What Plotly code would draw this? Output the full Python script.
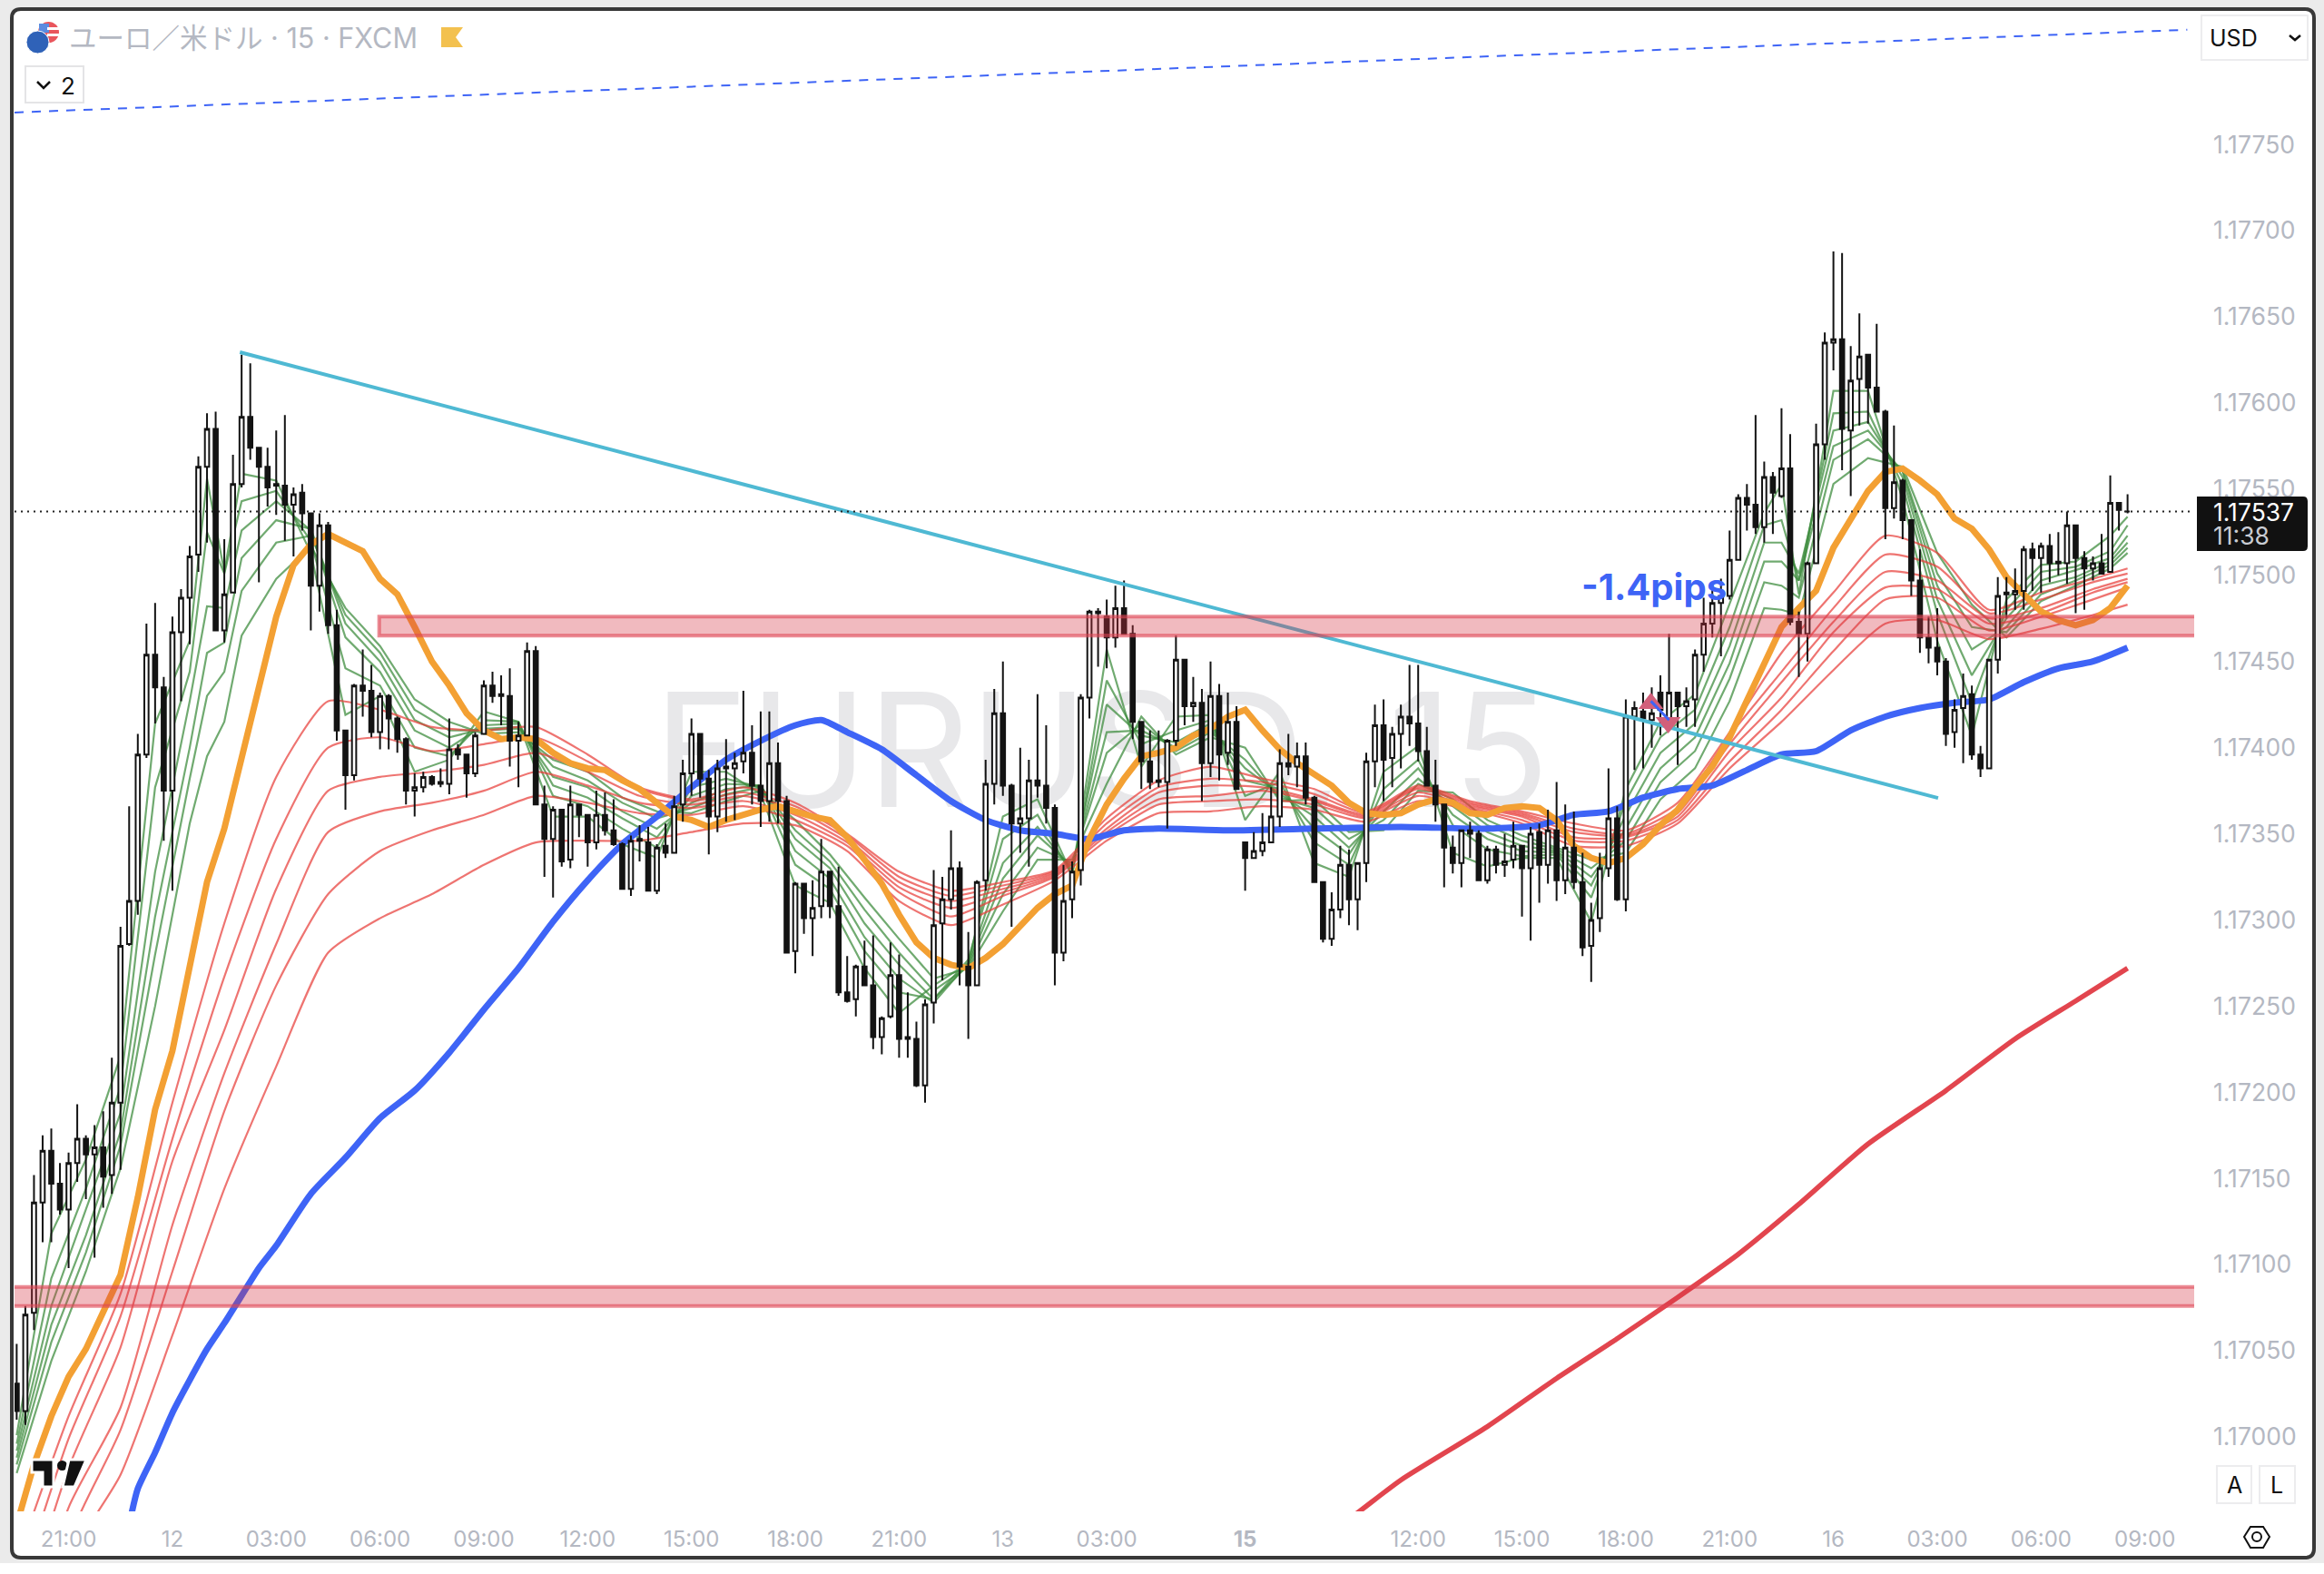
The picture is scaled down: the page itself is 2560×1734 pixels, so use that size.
import plotly.graph_objects as go

# --- bar positions and time-axis labels (15-minute bars, weekend gap removed) ---
tick_bars = [6, 18, 30, 42, 54, 66, 78, 90, 102, 114, 126, 142, 162, 174, 186, 198, 210, 222, 234, 246]
tick_text = ["21:00", "12", "03:00", "06:00", "09:00", "12:00", "15:00", "18:00", "21:00", "13", "03:00",
             "<b>15</b>", "12:00", "15:00", "18:00", "21:00", "16", "03:00", "06:00", "09:00"]
price_ticks = [1.17000, 1.17050, 1.17100, 1.17150, 1.17200, 1.17250, 1.17300, 1.17350,
               1.17400, 1.17450, 1.17500, 1.17550, 1.17600, 1.17650, 1.17700, 1.17750]

# --- candles: prices in 0.00001 above 1.0 (17537 = 1.17537) ---
opens = [17031,17015,17072,17136,17166,17147,17132,17159,17173,17164,17168,17152,17194,17286,17311,17396,17454,17435,17375,17467,
17487,17512,17563,17585,17468,17490,17553,17592,17574,17563,17553,17552,17541,17548,17536,17494,17529,17471,17410,17384,
17436,17433,17409,17430,17417,17405,17375,17377,17383,17380,17379,17399,17396,17385,17408,17436,17431,17430,17404,17407,
17456,17367,17347,17364,17335,17367,17361,17345,17361,17352,17344,17318,17347,17345,17317,17343,17339,17367,17385,17408,
17382,17360,17389,17388,17392,17397,17378,17369,17391,17369,17282,17321,17301,17308,17328,17308,17258,17254,17273,17262,
17232,17244,17268,17232,17231,17204,17252,17298,17312,17330,17273,17262,17323,17379,17420,17378,17356,17359,17381,17378,
17365,17281,17312,17329,17429,17479,17476,17464,17481,17466,17415,17392,17381,17380,17404,17451,17424,17426,17391,17430,
17397,17415,17345,17336,17340,17345,17360,17391,17389,17395,17371,17322,17289,17306,17332,17312,17333,17392,17413,17394,
17408,17418,17414,17398,17378,17367,17342,17333,17352,17350,17323,17341,17332,17335,17343,17330,17351,17332,17352,17323,
17342,17322,17285,17301,17330,17359,17312,17418,17421,17416,17432,17417,17432,17424,17428,17454,17472,17484,17488,17509,
17545,17541,17528,17557,17546,17562,17473,17466,17507,17576,17635,17637,17584,17614,17628,17609,17595,17539,17555,17532,
17497,17464,17458,17450,17409,17423,17431,17396,17388,17451,17490,17489,17491,17515,17510,17517,17508,17507,17529,17510,
17504,17507,17502,17542,17537]
highs = [17054,17076,17152,17175,17179,17159,17165,17193,17175,17181,17189,17220,17296,17366,17408,17472,17484,17441,17476,17492,
17517,17569,17594,17595,17521,17570,17628,17623,17574,17574,17584,17593,17551,17553,17536,17536,17531,17480,17410,17437,
17457,17448,17432,17431,17418,17406,17385,17386,17384,17388,17417,17402,17396,17409,17439,17444,17442,17446,17415,17461,
17459,17378,17366,17364,17378,17367,17361,17375,17374,17370,17345,17349,17355,17354,17344,17356,17372,17393,17417,17408,
17387,17393,17405,17397,17433,17413,17421,17421,17403,17372,17322,17321,17323,17347,17328,17331,17279,17274,17288,17291,
17244,17287,17280,17258,17241,17254,17329,17325,17352,17334,17293,17323,17393,17434,17450,17379,17400,17393,17431,17413,
17367,17332,17334,17431,17480,17481,17486,17494,17497,17471,17415,17410,17410,17405,17465,17451,17441,17434,17450,17437,
17432,17424,17345,17351,17362,17377,17399,17408,17403,17403,17372,17322,17316,17343,17341,17333,17397,17425,17428,17412,
17425,17448,17448,17412,17393,17367,17349,17352,17357,17352,17343,17343,17350,17357,17343,17354,17356,17364,17380,17367,
17363,17339,17310,17339,17388,17366,17428,17427,17432,17435,17442,17466,17432,17435,17457,17487,17494,17498,17526,17547,
17553,17593,17566,17560,17597,17582,17479,17508,17588,17641,17688,17687,17633,17652,17628,17646,17596,17587,17556,17532,
17515,17476,17481,17452,17428,17443,17436,17401,17451,17499,17499,17504,17517,17519,17519,17524,17525,17537,17529,17514,
17511,17524,17558,17542,17547]
lows = [17010,17007,17062,17113,17113,17129,17098,17148,17138,17104,17133,17141,17155,17285,17303,17394,17414,17346,17317,17427,
17460,17502,17519,17468,17461,17490,17551,17567,17496,17540,17535,17520,17511,17526,17468,17479,17466,17404,17364,17381,
17418,17406,17399,17399,17397,17367,17360,17374,17378,17377,17373,17393,17371,17383,17408,17426,17413,17389,17377,17407,
17367,17325,17313,17331,17330,17348,17331,17341,17349,17343,17318,17314,17334,17317,17315,17336,17339,17357,17372,17371,
17338,17351,17357,17358,17385,17367,17354,17357,17356,17281,17269,17292,17279,17301,17301,17256,17252,17244,17262,17225,
17222,17243,17220,17220,17203,17194,17240,17265,17306,17262,17231,17262,17317,17367,17372,17296,17339,17331,17371,17356,
17262,17276,17301,17320,17417,17447,17446,17458,17466,17405,17376,17376,17377,17353,17401,17413,17415,17369,17383,17381,
17390,17376,17317,17336,17337,17345,17354,17384,17377,17367,17322,17287,17285,17301,17297,17294,17322,17377,17369,17377,
17388,17401,17392,17378,17357,17319,17327,17319,17336,17323,17321,17327,17325,17330,17302,17288,17310,17321,17311,17315,
17318,17279,17264,17293,17325,17311,17305,17387,17388,17400,17407,17415,17390,17412,17412,17444,17464,17453,17486,17509,
17526,17524,17519,17524,17545,17471,17441,17450,17507,17567,17619,17561,17546,17587,17588,17595,17521,17533,17521,17488,
17455,17449,17442,17401,17400,17391,17393,17383,17388,17443,17475,17480,17480,17491,17490,17496,17500,17495,17478,17480,
17497,17501,17502,17526,17536]
closes = [17015,17071,17136,17166,17147,17132,17159,17173,17164,17168,17151,17194,17285,17311,17396,17454,17435,17375,17467,17487,
17511,17563,17585,17468,17489,17553,17592,17574,17563,17551,17552,17541,17547,17536,17494,17529,17471,17410,17384,17436,
17433,17409,17430,17417,17405,17375,17377,17383,17379,17379,17399,17396,17385,17407,17436,17430,17430,17404,17407,17456,
17367,17347,17364,17334,17367,17361,17345,17361,17352,17344,17318,17346,17346,17317,17342,17339,17366,17385,17408,17382,
17360,17388,17388,17391,17397,17378,17369,17391,17369,17281,17321,17301,17307,17328,17308,17258,17253,17273,17262,17232,
17243,17268,17231,17231,17204,17251,17297,17312,17330,17273,17262,17322,17379,17420,17378,17356,17359,17381,17378,17365,
17281,17311,17328,17429,17479,17478,17464,17481,17466,17415,17392,17380,17380,17404,17451,17424,17426,17391,17430,17396,
17415,17376,17336,17340,17345,17360,17391,17389,17395,17371,17322,17289,17306,17332,17312,17333,17392,17413,17393,17408,
17418,17414,17398,17378,17367,17342,17333,17352,17350,17323,17341,17332,17334,17343,17330,17350,17332,17352,17323,17342,
17322,17284,17300,17330,17359,17312,17418,17423,17417,17420,17422,17432,17424,17427,17454,17472,17484,17488,17509,17545,
17541,17528,17557,17548,17562,17473,17466,17507,17576,17635,17637,17585,17613,17627,17609,17595,17539,17554,17532,17497,
17464,17458,17450,17408,17422,17430,17396,17388,17451,17488,17489,17491,17515,17510,17517,17507,17507,17529,17510,17504,
17507,17501,17542,17538,17537]

# --- six fast averages (green), read at these bars ---
green_bars = [0,4,8,12,16,20,22,24,26,30,34,38,42,46,50,54,58,62,66,70,74,78,82,86,90,94,98,102,106,110,114,118,122,126,130,134,138,142,146,150,154,158,162,166,170,174,178,182,186,190,194,198,202,204,206,210,214,218,222,226,230,234,238,242,244]
green1 = [17001,17118,17161,17221,17414,17462,17556,17502,17559,17555,17513,17419,17430,17386,17393,17421,17415,17360,17360,17344,17336,17386,17386,17373,17320,17310,17272,17246,17262,17275,17360,17370,17326,17457,17389,17418,17419,17358,17386,17333,17325,17386,17401,17339,17331,17336,17336,17299,17376,17415,17431,17484,17536,17553,17489,17607,17607,17544,17462,17407,17486,17506,17508,17523,17534]
green2 = [16996,17092,17144,17203,17377,17444,17525,17501,17543,17549,17520,17446,17436,17400,17395,17416,17415,17372,17366,17353,17342,17377,17382,17377,17332,17318,17282,17258,17254,17277,17347,17361,17326,17439,17402,17410,17416,17372,17380,17345,17332,17376,17393,17355,17341,17337,17338,17313,17369,17406,17422,17470,17529,17532,17497,17594,17595,17552,17478,17426,17480,17502,17505,17514,17529]
green3 = [16992,17076,17132,17188,17328,17427,17482,17481,17526,17543,17526,17464,17444,17410,17400,17413,17414,17378,17371,17359,17348,17372,17379,17378,17340,17324,17290,17266,17252,17275,17333,17354,17329,17425,17407,17403,17414,17381,17376,17353,17338,17369,17388,17361,17347,17340,17339,17320,17361,17397,17414,17459,17519,17519,17501,17584,17589,17557,17486,17442,17475,17497,17503,17510,17523]
green4 = [16988,17065,17117,17177,17302,17400,17455,17461,17510,17532,17527,17472,17450,17416,17406,17411,17412,17383,17377,17363,17353,17368,17376,17378,17347,17330,17298,17274,17254,17274,17324,17349,17331,17409,17410,17400,17411,17388,17373,17360,17342,17363,17382,17366,17351,17343,17340,17325,17353,17388,17406,17449,17508,17508,17497,17575,17584,17560,17494,17457,17470,17494,17499,17508,17519]
green5 = [16984,17055,17107,17169,17280,17382,17430,17444,17491,17519,17523,17477,17455,17422,17410,17410,17411,17389,17381,17368,17359,17365,17373,17377,17352,17334,17306,17281,17259,17273,17315,17342,17333,17397,17414,17398,17409,17393,17371,17365,17347,17358,17379,17370,17355,17346,17341,17330,17346,17380,17398,17440,17496,17494,17487,17567,17579,17561,17501,17470,17467,17489,17497,17506,17516]
green6 = [16979,17044,17096,17156,17250,17356,17395,17415,17465,17498,17517,17481,17459,17428,17415,17408,17409,17393,17386,17371,17363,17362,17369,17375,17358,17338,17313,17289,17266,17272,17305,17335,17335,17379,17418,17396,17406,17400,17369,17370,17351,17352,17375,17374,17358,17349,17342,17335,17339,17370,17388,17427,17481,17480,17477,17553,17568,17563,17513,17483,17464,17485,17494,17504,17513]

# --- six slower averages (red), read at these bars ---
red_bars = [0,6,12,18,24,30,36,42,48,54,60,66,72,78,84,90,96,102,108,114,120,126,132,138,144,150,156,162,168,174,180,186,192,198,204,210,216,222,228,234,240,244]
red1 = [16928,17012,17083,17194,17298,17383,17427,17422,17412,17410,17412,17396,17377,17370,17377,17368,17350,17328,17317,17322,17329,17359,17381,17389,17382,17376,17363,17378,17369,17363,17356,17352,17368,17409,17455,17490,17523,17513,17480,17490,17498,17504]
red2 = [16907,16999,17070,17173,17267,17347,17400,17406,17398,17402,17406,17392,17376,17369,17374,17366,17349,17325,17314,17320,17328,17356,17377,17382,17380,17373,17362,17377,17368,17362,17353,17350,17365,17407,17444,17481,17512,17505,17478,17486,17496,17501]
red3 = [16886,16982,17052,17160,17236,17318,17375,17383,17386,17390,17397,17386,17372,17367,17372,17364,17347,17322,17311,17318,17327,17353,17374,17378,17377,17370,17361,17376,17367,17361,17351,17349,17362,17402,17438,17473,17502,17497,17475,17481,17492,17498]
red4 = [16859,16959,17017,17123,17211,17286,17351,17363,17368,17375,17386,17378,17368,17365,17369,17361,17345,17319,17307,17316,17326,17351,17370,17372,17375,17369,17360,17374,17366,17360,17348,17348,17360,17398,17429,17467,17493,17492,17472,17478,17490,17496]
red5 = [16807,16940,17004,17096,17189,17262,17315,17340,17352,17361,17372,17368,17362,17361,17366,17358,17343,17316,17302,17314,17325,17349,17367,17369,17370,17367,17359,17372,17365,17358,17346,17346,17358,17392,17422,17456,17486,17487,17468,17476,17486,17493]
red6 = [16754,16927,16978,17059,17144,17215,17281,17301,17315,17332,17345,17346,17346,17351,17356,17355,17340,17311,17297,17309,17323,17346,17362,17363,17366,17364,17357,17369,17364,17356,17343,17343,17356,17388,17415,17445,17472,17474,17463,17469,17477,17483]

# --- thick averages ---
orange_bars = list(range(0, 245, 2))
orange_line = [16949,16984,17012,17035,17051,17072,17094,17139,17190,17224,17272,17322,17353,17394,17436,17476,17506,17518,17524,17519,17514,17498,17489,17470,17450,17436,17420,17410,17405,17406,17405,17397,17391,17388,17387,17381,17376,17368,17360,17358,17354,17358,17361,17364,17366,17363,17360,17358,17348,17335,17321,17303,17287,17278,17274,17272,17278,17286,17296,17307,17315,17320,17347,17367,17382,17395,17397,17400,17407,17411,17418,17422,17410,17399,17391,17385,17378,17368,17362,17361,17362,17367,17370,17368,17362,17361,17365,17366,17365,17358,17343,17336,17333,17336,17344,17355,17364,17377,17389,17406,17428,17449,17470,17481,17491,17516,17533,17549,17560,17562,17555,17547,17533,17527,17515,17499,17489,17479,17474,17471,17474,17481,17494]
blue_bars = [13,14,16,18,20,22,24,26,28,30,34,38,42,46,50,54,58,62,66,70,74,78,82,86,90,93,96,100,104,108,112,116,120,124,128,132,140,150,160,170,176,180,184,188,192,196,200,204,208,212,216,220,224,228,232,236,240,244]
blue_line = [16949,16970,16991,17014,17033,17051,17066,17082,17098,17111,17141,17162,17185,17201,17223,17248,17272,17299,17323,17344,17360,17377,17393,17404,17413,17416,17409,17399,17384,17369,17358,17352,17350,17347,17352,17353,17352,17353,17354,17353,17355,17361,17363,17371,17376,17378,17387,17396,17398,17410,17418,17423,17426,17428,17438,17446,17450,17458]
thick_red_bars = [153,155,160,170,178,185,192,199,206,214,223,231,238,244]
thick_red_line = [16949,16956,16975,17006,17034,17057,17081,17106,17135,17170,17201,17231,17253,17272]

# --- drawings ---
trend_bars = [25.8, 222.1]
trend_prices = [1.176295, 1.173708]
dashed_bars = [-0.25, 250.9]
dashed_prices = [1.177686, 1.178166]
trade_bars = [188.9, 190.9]
entry_exit_prices = [1.174256, 1.174146]
trade_line_bars = [188.9, 191.0]
trade_line_prices = [1.17427, 1.17416]
last_price = 1.17537
upper_zone = [1.17465, 1.17476]
lower_zone = [1.17076, 1.17087]
zone_start = 41.9
x_range = [-0.25, 251.7]
y_range = [1.169568, 1.178265]

W, H = 2560, 1734
ML, MR, MT, MB = 16, 143, 14, 69
def P(vals):
    return [1 + v / 1e5 for v in vals]
def fx(px):
    return (px - ML) / (W - ML - MR)
def fy(py):
    return 1 - (py - MT) / (H - MT - MB)

fig = go.Figure()
fig.add_trace(go.Scatter(x=[125.4], y=[1.173887], mode="text", text=["EURUSD, 15"], textposition="middle center",
                         textfont=dict(family="Inter", size=175, color="#e8e8ea"), zorder=-1, hoverinfo="skip"))
for g in [green6, green5, green4, green3, green2, green1]:
    fig.add_trace(go.Scatter(x=green_bars, y=P(g), mode="lines", line=dict(color="rgba(62,140,62,0.74)", width=2.2), zorder=0, hoverinfo="skip"))
for r in [red6, red5, red4, red3, red2, red1]:
    fig.add_trace(go.Scatter(x=red_bars, y=P(r), mode="lines", line=dict(color="rgba(232,62,58,0.72)", width=2.2, shape="spline", smoothing=0.6), zorder=0, hoverinfo="skip"))
fig.add_trace(go.Scatter(x=thick_red_bars, y=P(thick_red_line), mode="lines", line=dict(color="#e2454e", width=5.5, shape="spline", smoothing=0.6), zorder=0, hoverinfo="skip"))
fig.add_trace(go.Scatter(x=blue_bars, y=P(blue_line), mode="lines", line=dict(color="#3e64f6", width=7, shape="spline", smoothing=0.6), zorder=0, hoverinfo="skip"))
fig.add_trace(go.Scatter(x=orange_bars, y=P(orange_line), mode="lines", line=dict(color="#f3a033", width=7), zorder=0, hoverinfo="skip"))
fig.add_trace(go.Candlestick(x=list(range(len(opens))), open=P(opens), high=P(highs), low=P(lows), close=P(closes),
                             increasing=dict(line=dict(color="#131313", width=2), fillcolor="#ffffff"),
                             decreasing=dict(line=dict(color="#131313", width=2), fillcolor="#131313"),
                             whiskerwidth=0, zorder=1, hoverinfo="skip"))
fig.add_trace(go.Scatter(x=trend_bars, y=trend_prices, mode="lines", line=dict(color="#4fb9d3", width=4), zorder=2, hoverinfo="skip"))
fig.add_trace(go.Scatter(x=dashed_bars, y=dashed_prices, mode="lines", line=dict(color="#3e64f6", width=2, dash="10px,9px"), zorder=2, hoverinfo="skip"))
fig.add_trace(go.Scatter(x=[trade_bars[0]], y=[entry_exit_prices[0]], mode="markers", marker=dict(symbol="triangle-up", size=24, color="#d2607a"), zorder=2, hoverinfo="skip"))
fig.add_trace(go.Scatter(x=[trade_bars[1]], y=[entry_exit_prices[1]], mode="markers", marker=dict(symbol="triangle-down", size=24, color="#d2607a"), zorder=2, hoverinfo="skip"))
fig.add_trace(go.Scatter(x=trade_line_bars, y=trade_line_prices, mode="lines", line=dict(color="#3e64f6", width=3), zorder=3, hoverinfo="skip"))

zone_fill = "rgba(214,52,68,0.34)"
zone_line = "rgba(222,70,84,0.62)"
shapes = [
    dict(type="rect", xref="paper", yref="paper", x0=fx(0), x1=fx(2560), y0=fy(1734), y1=fy(1722), fillcolor="#ffffff", line_width=0, layer="below"),
    dict(type="path", xref="paper", yref="paper", layer="below", fillcolor="#ffffff", line=dict(color="#383838", width=4),
         path=f"M {fx(23)} {fy(10)} L {fx(2539)} {fy(10)} Q {fx(2549)} {fy(10)} {fx(2549)} {fy(20)} L {fx(2549)} {fy(1706)} "
              f"Q {fx(2549)} {fy(1716)} {fx(2539)} {fy(1716)} L {fx(23)} {fy(1716)} Q {fx(13)} {fy(1716)} {fx(13)} {fy(1706)} "
              f"L {fx(13)} {fy(20)} Q {fx(13)} {fy(10)} {fx(23)} {fy(10)} Z"),
    dict(type="rect", x0=zone_start, x1=x_range[1] + 3, y0=upper_zone[0], y1=upper_zone[1], fillcolor=zone_fill, line=dict(color=zone_line, width=4), layer="above"),
    dict(type="rect", x0=x_range[0] - 3, x1=x_range[1] + 3, y0=lower_zone[0], y1=lower_zone[1], fillcolor=zone_fill, line=dict(color=zone_line, width=4), layer="above"),
    dict(type="line", x0=x_range[0], x1=x_range[1], y0=last_price, y1=last_price, line=dict(color="#222222", width=2, dash="2px,5px"), layer="above"),
    # price badge
    dict(type="path", xref="paper", yref="paper", fillcolor="#111111", line_width=0, layer="above",
         path=f"M {fx(2420)} {fy(547)} L {fx(2537)} {fy(547)} Q {fx(2542)} {fy(547)} {fx(2542)} {fy(552)} L {fx(2542)} {fy(602)} "
              f"Q {fx(2542)} {fy(607)} {fx(2537)} {fy(607)} L {fx(2420)} {fy(607)} Z"),
    # EU / US flag
    dict(type="circle", xref="paper", yref="paper", x0=fx(42), x1=fx(65), y0=fy(47), y1=fy(24), fillcolor="#e9555c", line_width=0, layer="above"),
    dict(type="rect", xref="paper", yref="paper", x0=fx(43), x1=fx(54), y0=fy(36), y1=fy(26), fillcolor="#5b8be0", line_width=0, layer="above"),
    dict(type="rect", xref="paper", yref="paper", x0=fx(52), x1=fx(65), y0=fy(33), y1=fy(30), fillcolor="#ffffff", line_width=0, layer="above"),
    dict(type="rect", xref="paper", yref="paper", x0=fx(52), x1=fx(65), y0=fy(40), y1=fy(37), fillcolor="#ffffff", line_width=0, layer="above"),
    dict(type="circle", xref="paper", yref="paper", x0=fx(29), x1=fx(54), y0=fy(59), y1=fy(34), fillcolor="#2f62b8", line=dict(color="#ffffff", width=1), layer="above"),
    # header flag mark
    dict(type="path", xref="paper", yref="paper", fillcolor="#f3c14f", line_width=0, layer="above",
         path=f"M {fx(486)} {fy(30)} L {fx(510)} {fy(30)} L {fx(502)} {fy(41)} L {fx(510)} {fy(52)} L {fx(486)} {fy(52)} Z"),
    # indicator count button
    dict(type="rect", xref="paper", yref="paper", x0=fx(28), x1=fx(92), y0=fy(113), y1=fy(73), fillcolor="#ffffff", line=dict(color="#e4e4e6", width=2), layer="above"),
    dict(type="path", xref="paper", yref="paper", line=dict(color="#111111", width=2.5), layer="above",
         path=f"M {fx(41)} {fy(90)} L {fx(48)} {fy(97)} L {fx(55)} {fy(90)}"),
    # currency button
    dict(type="rect", xref="paper", yref="paper", x0=fx(2425), x1=fx(2542), y0=fy(66), y1=fy(17), fillcolor="#ffffff", line=dict(color="#ececee", width=2), layer="above"),
    dict(type="path", xref="paper", yref="paper", line=dict(color="#111111", width=2.5), layer="above",
         path=f"M {fx(2522)} {fy(39)} L {fx(2528)} {fy(44)} L {fx(2534)} {fy(39)}"),
    # A / L buttons
    dict(type="rect", xref="paper", yref="paper", x0=fx(2442), x1=fx(2480), y0=fy(1656), y1=fy(1615), fillcolor="#ffffff", line=dict(color="#ececee", width=2), layer="above"),
    dict(type="rect", xref="paper", yref="paper", x0=fx(2489), x1=fx(2528), y0=fy(1656), y1=fy(1615), fillcolor="#ffffff", line=dict(color="#ececee", width=2), layer="above"),
    # settings hexagon
    dict(type="path", xref="paper", yref="paper", line=dict(color="#111111", width=2), layer="above",
         path=f"M {fx(2472)} {fy(1693)} L {fx(2479)} {fy(1682)} L {fx(2493)} {fy(1682)} L {fx(2500)} {fy(1693)} L {fx(2493)} {fy(1705)} L {fx(2479)} {fy(1705)} Z"),
    dict(type="circle", xref="paper", yref="paper", x0=fx(2481), x1=fx(2491), y0=fy(1698), y1=fy(1688), line=dict(color="#111111", width=2), layer="above"),
    # TradingView mark
    dict(type="path", xref="paper", yref="paper", fillcolor="#111111", line=dict(color="#ffffff", width=3), layer="above",
         path=f"M {fx(35)} {fy(1608)} L {fx(59)} {fy(1608)} L {fx(59)} {fy(1638)} L {fx(47)} {fy(1638)} L {fx(47)} {fy(1622)} L {fx(35)} {fy(1622)} Z"),
    dict(type="circle", xref="paper", yref="paper", x0=fx(63), x1=fx(74), y0=fy(1620), y1=fy(1609), fillcolor="#111111", line_width=0, layer="above"),
    dict(type="path", xref="paper", yref="paper", fillcolor="#111111", line=dict(color="#ffffff", width=3), layer="above",
         path=f"M {fx(76)} {fy(1608)} L {fx(95)} {fy(1608)} L {fx(82)} {fy(1638)} L {fx(69)} {fy(1638)} Z"),
]

def note(px, py, text, size, color, anchor="center", family="Inter"):
    return dict(xref="paper", yref="paper", x=fx(px), y=fy(py), text=text, showarrow=False, xanchor=anchor, yanchor="middle",
                font=dict(family=family, size=size, color=color))

annotations = [
    note(74, 42, "ユーロ／米ドル · 15 · FXCM", 30.5, "#b4b8c2", "left", "Inter, Noto Sans CJK JP"),
    note(75, 94, "2", 26, "#111111"),
    note(2432, 42, "USD", 25, "#111111", "left"),
    note(2436, 564, "1.17537", 26.5, "#ffffff", "left"),
    note(2436, 590, "11:38", 26.5, "#c9ccd3", "left"),
    note(1822, 647, "<b>-1.4pips</b>", 40, "#3e64f6"),
    note(2461, 1636, "A", 25, "#111111"),
    note(2508, 1636, "L", 25, "#111111"),
]

fig.update_layout(
    width=W, height=H, margin=dict(l=ML, r=MR, t=MT, b=MB, pad=0),
    paper_bgcolor="#ebebeb", plot_bgcolor="rgba(0,0,0,0)", showlegend=False,
    shapes=shapes, annotations=annotations, boxgap=0.3,
    xaxis=dict(range=x_range, tickmode="array", tickvals=tick_bars, ticktext=tick_text, showgrid=False, zeroline=False,
               showline=False, ticks="", ticklabelstandoff=14, rangeslider=dict(visible=False),
               tickfont=dict(family="Inter", size=24, color="#b4b8c2")),
    yaxis=dict(range=y_range, side="right", tickmode="array", tickvals=price_ticks, ticktext=[f"{v:.5f}" for v in price_ticks],
               showgrid=False, zeroline=False, showline=False, ticks="", ticklabelstandoff=20,
               tickfont=dict(family="Inter", size=26.5, color="#b4b8c2")),
)
fig.write_html("out.html", config={"displayModeBar": False}, post_script="document.body.style.margin='0';")
